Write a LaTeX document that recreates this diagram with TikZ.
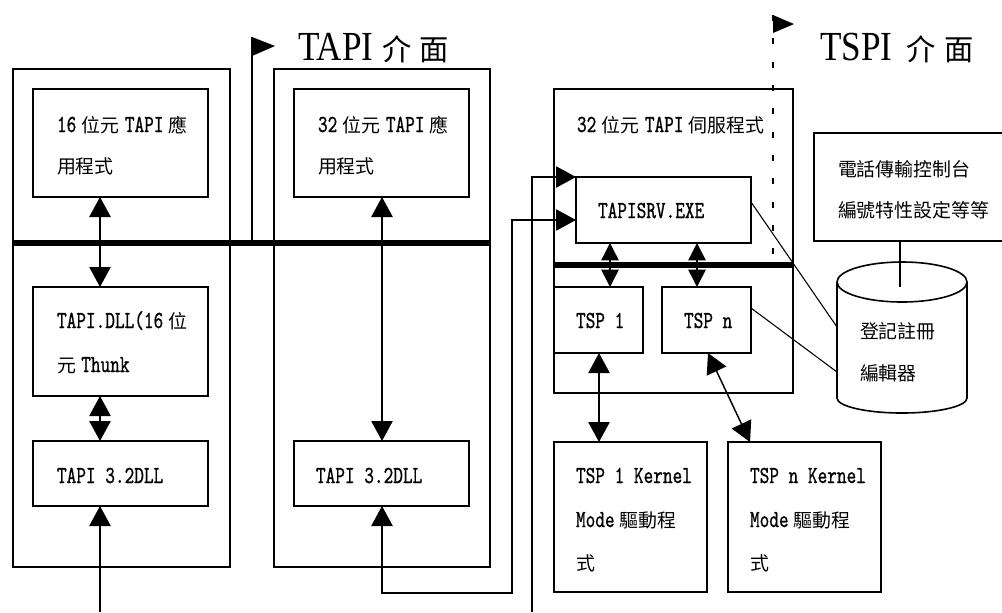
\documentclass[tikz,border=0pt]{standalone}
\usepackage{fontspec}
\setmainfont{lmmono10-regular}[Extension=.otf,FakeStretch=0.75,FakeBold=0.8]
\newfontfamily\ttlfont{Liberation Serif}[FakeStretch=0.85]
\newfontfamily\cjk{Noto Sans CJK TC}
\usetikzlibrary{arrows.meta,fit}
\newcommand\zh[1]{{\cjk\fontsize{14.2}{16}\selectfont #1}}
\newcommand\zhT[1]{{\cjk\fontsize{22}{26}\selectfont #1}}
\newcommand\gp{\kern4pt}
\begin{document}
\begin{tikzpicture}[x=0.75pt,y=-0.75pt,
  box/.style={draw, line width=1.2pt, inner sep=0pt, outer sep=0pt},
  lbl/.style={anchor=base west, inner sep=0pt, outer sep=0pt, font=\fontsize{18.4}{20}\selectfont},
  ttl/.style={anchor=base west, inner sep=0pt, outer sep=0pt, font=\ttlfont\fontsize{31}{33}\selectfont},
  conn/.style={line width=1.1pt},
  arr/.style={conn, -{Triangle[length=15pt,width=16pt]}},
  darr/.style={conn, {Triangle[length=15pt,width=16pt]}-{Triangle[length=15pt,width=16pt]}},
  sdarr/.style={conn, {Triangle[length=13pt,width=13pt]}-{Triangle[length=13pt,width=13pt]}},
  bus/.style={line width=4pt},
  thin/.style={line width=0.8pt}]
\useasboundingbox (0,0) rectangle (1002,612);

% boxes
\node[box, fit={(13,69)(230,567)}] (outL) {};
\node[box, fit={(274,69)(490,567)}] (outR) {};
\node[box, fit={(33,89)(208,197)}] (app16) {};
\node[box, fit={(294,89)(469,197)}] (app32) {};
\node[box, fit={(33,287)(208,396)}] (dll16) {};
\node[box, fit={(33,441)(208,506)}] (t32L) {};
\node[box, fit={(294,441)(469,506)}] (t32R) {};
\node[box, fit={(554,89)(793,393)}] (srvbox) {};
\node[box, fit={(576,177)(751,243)}] (srv) {};
\node[box, fit={(554,287)(643,353)}] (tsp1) {};
\node[box, fit={(662,287)(751,353)}] (tspn) {};
\node[box, fit={(554,442)(707,592)}] (kern1) {};
\node[box, fit={(728,442)(881,592)}] (kernn) {};
\node[box, fit={(814,133)(1012,241)}] (phone) {};

% cylinder
\draw[line width=1.2pt] (902,282) ellipse [x radius=65, y radius=20];
\draw[line width=1.2pt] (837,282) -- (837,398) (967,282) -- (967,398);
\begin{scope}
\clip (825,398) rectangle (980,425);
\draw[line width=1.2pt] (902,398) ellipse [x radius=65, y radius=15];
\end{scope}
\coordinate (cylA) at (837,327);
\coordinate (cylB) at (837,372);
\coordinate (cylTop) at (900,287);

% buses
\draw[bus] (13,243) -- (490,243);
\draw[bus] (554,265) -- (793,265);

% flags
\coordinate (tapiflag) at (252,37);
\coordinate (tapibus) at (252,243);
\draw[conn] (tapibus) -- (tapiflag);
\fill (252,37) -- (275,46) -- (252,56) -- cycle;
\coordinate (tspiflag) at (773,15);
\coordinate (tspibus) at (773,265);
\draw[line width=1.6pt, dash pattern=on 4.5pt off 13pt] (tspiflag) -- (tspibus);
\fill (773,15) -- (794,24) -- (773,33) -- cycle;

% titles
\node[ttl] (tapit) at (298,60) {TAPI\kern7pt\zhT{介\kern6pt 面}};
\node[ttl] (tspit) at (820,60) {TSPI\kern11pt\zhT{介\kern6pt 面}};

% connector x positions
\coordinate (xL) at (100,0);
\coordinate (xR) at (382,0);
\coordinate (xs1) at (610,0);
\coordinate (xs2) at (697,0);
\coordinate (xk1) at (599,0);
\coordinate (bL) at (100,612);
\coordinate (b2) at (532,612);
\coordinate (k1) at (512,593);
\coordinate (in1) at (576,177);
\coordinate (in2) at (576,220);

\draw[darr] (app16.south -| xL) -- (dll16.north -| xL);
\draw[darr] (dll16.south -| xL) -- (t32L.north -| xL);
\draw[arr] (bL) -- (t32L.south -| xL);
\draw[darr] (app32.south -| xR) -- (t32R.north -| xR);
\draw[darr] (t32R.south -| xR) |- (k1) |- (in2);
\draw[arr] (b2) |- (in1);
\draw[sdarr] (srv.south -| xs1) -- (tsp1.north -| xs1);
\draw[sdarr] (srv.south -| xs2) -- (tspn.north -| xs2);
\draw[darr] (tsp1.south -| xk1) -- (kern1.north -| xk1);
\draw[darr] (tspn.south -| 708,0) -- (kernn.north -| 750,0);
\draw[thin] (srv.east |- 0,202) -- (cylA);
\draw[thin] (tspn.east |- 0,308) -- (cylB);
\draw[conn] (phone.south -| cylTop) -- (cylTop);

% labels
\node[lbl] (l1a) at (57,132) {16\gp\zh{位元}\gp TAPI\gp\zh{應}};
\node[lbl] (l1b) at (57,173) {\zh{用程式}};
\node[lbl] (l2a) at (318,132) {32\gp\zh{位元}\gp TAPI\gp\zh{應}};
\node[lbl] (l2b) at (318,173) {\zh{用程式}};
\node[lbl] (l3a) at (57,328) {TAPI.DLL(16\gp\zh{位}};
\node[lbl] (l3b) at (57,372) {\zh{元}\gp Thunk};
\node[lbl] (l4) at (57,483) {TAPI 3.2DLL};
\node[lbl] (l5) at (316,483) {TAPI 3.2DLL};
\node[lbl] (l6) at (577,132) {32\gp\zh{位元}\gp TAPI\gp\zh{伺服程式}};
\node[lbl] (l7) at (598,218) {TAPISRV.EXE};
\node[lbl] (l8a) at (838,176) {\zh{電話傳輸控制台}};
\node[lbl] (l8b) at (838,217) {\zh{編號特性設定等等}};
\node[lbl] (l9) at (576,328) {TSP 1};
\node[lbl] (l10) at (684,328) {TSP n};
\node[lbl] (l11a) at (860,338) {\zh{登記註冊}};
\node[lbl] (l11b) at (860,380) {\zh{編輯器}};
\node[lbl] (l12a) at (576,483) {TSP 1 Kernel};
\node[lbl] (l12b) at (576,527) {Mode\gp\zh{驅動程}};
\node[lbl] (l12c) at (576,570) {\zh{式}};
\node[lbl] (l13a) at (750,483) {TSP n Kernel};
\node[lbl] (l13b) at (750,527) {Mode\gp\zh{驅動程}};
\node[lbl] (l13c) at (750,570) {\zh{式}};
\end{tikzpicture}
\end{document}
